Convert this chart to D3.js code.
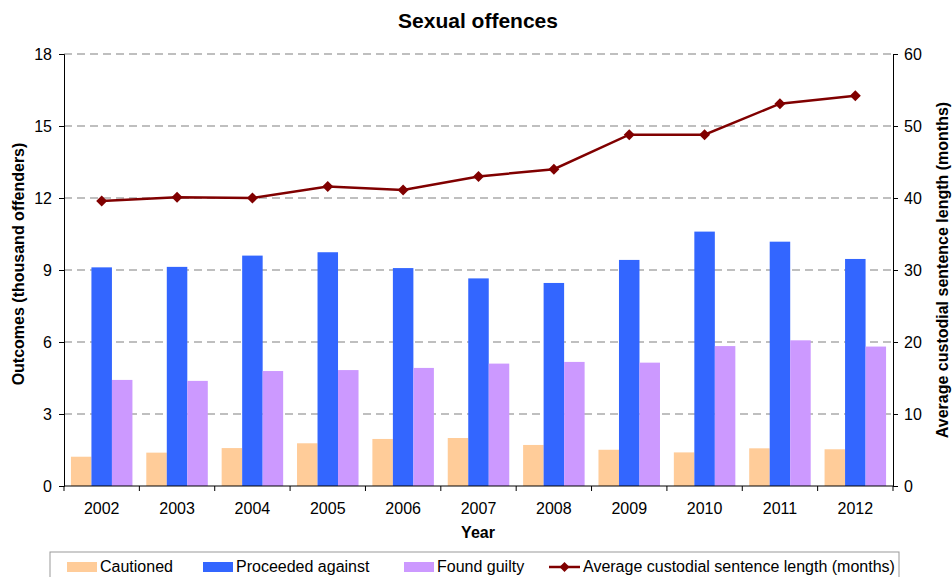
<!DOCTYPE html>
<html>
<head>
<meta charset="utf-8">
<script src="https://cdn.jsdelivr.net/npm/d3@7"></script>
<style>
  html, body { margin: 0; padding: 0; background: #fff; }
  svg { display: block; font-family: "Liberation Sans", Arial, sans-serif; }
</style>
</head>
<body>
<svg id="chart" width="952" height="577"></svg>
<script>
// Sexual offences: outcomes (thousand offenders) and average custodial sentence length
const years = ["2002","2003","2004","2005","2006","2007","2008","2009","2010","2011","2012"];
const cautioned = [1.22, 1.39, 1.58, 1.78, 1.96, 2.00, 1.71, 1.51, 1.40, 1.57, 1.53];
const proceeded = [9.11, 9.13, 9.60, 9.74, 9.08, 8.65, 8.46, 9.42, 10.60, 10.18, 9.46];
const foundGuilty = [4.42, 4.38, 4.79, 4.83, 4.92, 5.10, 5.17, 5.14, 5.83, 6.07, 5.81];
const sentenceMonths = [39.6, 40.1, 40.0, 41.6, 41.1, 43.0, 44.0, 48.8, 48.8, 53.1, 54.2];
const leftTicks = [0, 3, 6, 9, 12, 15, 18];
const rightTicks = [0, 10, 20, 30, 40, 50, 60];
const seriesNames = ["Cautioned", "Proceeded against", "Found guilty"];
const lineName = "Average custodial sentence length (months)";
const seriesColors = ["#FFCC99", "#3366FF", "#CC99FF"];
const lineColor = "#800000";

const svg = d3.select("#chart");
const plot = { left: 64, right: 893, top: 54, bottom: 486 };

const x = d3.scaleBand().domain(years).range([plot.left, plot.right]).paddingInner(0).paddingOuter(0);
const xSub = d3.scaleBand().domain(seriesNames).range([0, x.bandwidth()]).paddingInner(0).paddingOuter(0.338);
const yL = d3.scaleLinear().domain([0, 18]).range([plot.bottom, plot.top]);
const yR = d3.scaleLinear().domain([0, 60]).range([plot.bottom, plot.top]);

// dashed horizontal gridlines
svg.append("g")
  .selectAll("line")
  .data(leftTicks.filter(d => d > 0))
  .join("line")
  .attr("x1", plot.left).attr("x2", plot.right)
  .attr("y1", d => yL(d)).attr("y2", d => yL(d))
  .attr("stroke", "#aaaaaa").attr("stroke-width", 1.5)
  .attr("stroke-dasharray", "8,5");

// grouped bars
const rows = years.map((yr, i) => ({ year: yr, values: [cautioned[i], proceeded[i], foundGuilty[i]] }));
svg.append("g")
  .selectAll("g")
  .data(rows)
  .join("g")
  .attr("transform", d => `translate(${x(d.year)},0)`)
  .selectAll("rect")
  .data(d => d.values.map((v, k) => ({ name: seriesNames[k], value: v, color: seriesColors[k] })))
  .join("rect")
  .attr("x", d => xSub(d.name))
  .attr("width", xSub.bandwidth())
  .attr("y", d => yL(d.value))
  .attr("height", d => yL(0) - yL(d.value))
  .attr("fill", d => d.color);

// axes
const axisLeft = d3.axisLeft(yL).tickValues(leftTicks).tickSize(5).tickPadding(7);
const axisRight = d3.axisRight(yR).tickValues(rightTicks).tickSize(5).tickPadding(6);
const axisBottom = d3.axisBottom(x).tickSize(0).tickPadding(17);

function styleAxis(g) {
  g.select(".domain").attr("stroke", "#000").attr("stroke-width", 1);
  g.selectAll(".tick line").attr("stroke", "#000");
  g.selectAll(".tick text").attr("font-size", 16).attr("fill", "#000")
    .attr("font-family", "'Liberation Sans', Arial, sans-serif");
}

svg.append("g").attr("transform", `translate(${plot.left},0)`).call(axisLeft).call(styleAxis);
svg.append("g").attr("transform", `translate(${plot.right},0)`).call(axisRight).call(styleAxis);
const gx = svg.append("g").attr("transform", `translate(0,${plot.bottom})`).call(axisBottom).call(styleAxis);
gx.select(".domain").attr("d", `M${plot.left},0H${plot.right}`);

// category boundary ticks below the x axis
svg.append("g")
  .selectAll("line")
  .data(years.map(y => x(y)).concat([plot.right]))
  .join("line")
  .attr("x1", d => d).attr("x2", d => d)
  .attr("y1", plot.bottom).attr("y2", plot.bottom + 5)
  .attr("stroke", "#000");

// average custodial sentence line with diamond markers
const lineGen = d3.line()
  .x((d, i) => x(years[i]) + x.bandwidth() / 2)
  .y(d => yR(d));
svg.append("path")
  .datum(sentenceMonths)
  .attr("d", lineGen)
  .attr("fill", "none")
  .attr("stroke", lineColor)
  .attr("stroke-width", 2.5);

const diamond = r => `M0,${-r}L${r},0L0,${r}L${-r},0Z`;
svg.append("g")
  .selectAll("path")
  .data(sentenceMonths)
  .join("path")
  .attr("transform", (d, i) => `translate(${x(years[i]) + x.bandwidth() / 2},${yR(d)})`)
  .attr("d", diamond(5.5))
  .attr("fill", lineColor);

// titles
svg.append("text")
  .attr("x", 478).attr("y", 28)
  .attr("text-anchor", "middle")
  .attr("font-size", 21).attr("font-weight", "bold")
  .text("Sexual offences");

svg.append("text")
  .attr("x", 478).attr("y", 538)
  .attr("text-anchor", "middle")
  .attr("font-size", 16).attr("font-weight", "bold")
  .text("Year");

svg.append("text")
  .attr("transform", "translate(24,264) rotate(-90)")
  .attr("text-anchor", "middle")
  .attr("font-size", 16).attr("font-weight", "bold")
  .text("Outcomes (thousand offenders)");

svg.append("text")
  .attr("transform", "translate(948,270) rotate(-90)")
  .attr("text-anchor", "middle")
  .attr("font-size", 16).attr("font-weight", "bold")
  .text(lineName);

// legend
const legend = svg.append("g");
legend.append("rect")
  .attr("x", 50).attr("y", 552).attr("width", 849).attr("height", 40)
  .attr("fill", "#fff").attr("stroke", "#999").attr("stroke-width", 1);

const legendX = [67, 203, 404];
seriesNames.forEach((name, k) => {
  legend.append("rect")
    .attr("x", legendX[k]).attr("y", 562).attr("width", 30).attr("height", 10)
    .attr("fill", seriesColors[k]);
  legend.append("text")
    .attr("x", legendX[k] + 33).attr("y", 572)
    .attr("font-size", 16)
    .text(name);
});
legend.append("line")
  .attr("x1", 549).attr("x2", 580).attr("y1", 567).attr("y2", 567)
  .attr("stroke", lineColor).attr("stroke-width", 2.5);
legend.append("path")
  .attr("transform", "translate(564.5,567)")
  .attr("d", diamond(5))
  .attr("fill", lineColor);
legend.append("text")
  .attr("x", 583).attr("y", 572)
  .attr("font-size", 16)
  .text(lineName);
</script>
</body>
</html>
